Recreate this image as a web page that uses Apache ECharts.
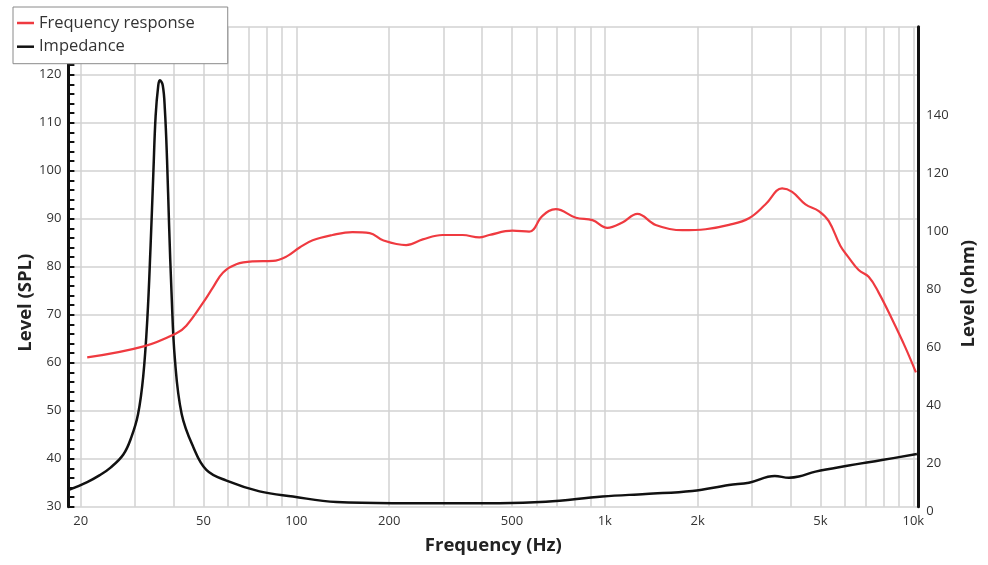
<!DOCTYPE html>
<html>
<head>
<meta charset="utf-8">
<script src="https://cdn.jsdelivr.net/npm/echarts@6/dist/echarts.min.js"></script>
<style>
html,body{margin:0;padding:0;background:#fff;}
#chart{width:988px;height:565px;}
</style>
</head>
<body>
<div id="chart"></div>
<script>
// ---- data ----
const frFreq  = [21, 32, 41, 44, 50, 53.7, 57.9, 63.9, 72.4, 84, 92.8, 102.5, 113, 131, 152, 173, 191, 227, 257, 298, 346, 392, 422, 502, 569, 628, 694, 806, 912, 1019, 1140, 1275, 1462, 1783, 2122, 2526, 2932, 3320, 3756, 4048, 4472, 4940, 5322, 5806, 6176, 6653, 7168, 7722, 8528, 9422, 10196];
const frLevel = [61.1, 63.4, 66.2, 67.7, 72.6, 75.7, 78.8, 80.5, 81.1, 81.2, 82.1, 84.0, 85.5, 86.6, 87.2, 87.0, 85.5, 84.5, 85.7, 86.6, 86.6, 86.1, 86.6, 87.5, 87.3, 90.6, 92.0, 90.2, 89.7, 88.1, 89.2, 91.0, 88.7, 87.6, 87.8, 88.7, 90.1, 93.0, 96.3, 95.6, 93.0, 91.6, 89.5, 84.3, 81.9, 79.3, 77.9, 74.6, 69.1, 63.2, 58.0];

const impFreq = [18.3, 21, 23, 25, 27.5, 29.2, 30.7, 31.9, 32.9, 33.7, 34.4, 35.0, 35.7, 36.1, 36.9, 37.5, 38.1, 38.7, 39.4, 40.4, 42.5, 46.3, 51.1, 59.4, 76, 97.5, 135, 205, 455, 644, 982, 1357, 1921, 2526, 2932, 3557, 3950, 4254, 4818, 6176, 7914, 10272];
const impOhm  = [10.8, 13.5, 15.8, 18.5, 23, 29, 37, 50, 70, 95, 120, 140, 150.5, 152.2, 150.5, 142, 125, 102, 79, 56, 37, 25.7, 17.7, 14.0, 10.3, 8.5, 6.6, 6.2, 6.2, 6.7, 8.5, 9.4, 10.4, 12.5, 13.3, 15.6, 15.0, 15.4, 17.1, 19.2, 21.1, 23.2];

const xGridFreqs  = [20, 30, 40, 50, 60, 70, 80, 90, 100, 200, 300, 400, 500, 600, 700, 800, 900, 1000, 2000, 3000, 4000, 5000, 6000, 7000, 8000, 9000, 10000];
const xLabelFreqs = [20, 50, 100, 200, 500, 1000, 2000, 5000, 10000];
const rightLabels = [20, 40, 60, 80, 100, 120, 140];

const X_MIN_HZ = 18.25, X_MAX_HZ = 10380;
const LEFT_MIN = 30, LEFT_MAX = 130;
const RIGHT_MIN = 5, RIGHT_MAX = 170.7;

// ---- chart ----
const lg = Math.log10;
const FONT = '"Open Sans", "DejaVu Sans", sans-serif';
const chart = echarts.init(document.getElementById('chart'), null, {renderer: 'canvas'});

const nameStyle = {fontFamily: FONT, fontSize: 18.5, fontWeight: 'bold', color: '#222'};

const option = {
  animation: false,
  backgroundColor: '#ffffff',
  textStyle: {fontFamily: FONT},
  legend: {
    orient: 'vertical',
    left: 13,
    top: 7,
    padding: [7, 33, 8, 4],
    itemGap: 5.7,
    itemWidth: 17,
    itemHeight: 2.5,
    icon: 'rect',
    backgroundColor: '#ffffff',
    borderColor: '#8a8a8a',
    borderWidth: 1,
    textStyle: {fontFamily: FONT, fontSize: 16.5, color: '#333', lineHeight: 18},
    data: ['Frequency response', 'Impedance']
  },
  grid: {left: 68.4, right: 69.7, top: 26.7, bottom: 58.3, outerBoundsMode: 'none'},
  xAxis: {
    type: 'value',
    min: lg(X_MIN_HZ),
    max: lg(X_MAX_HZ),
    name: 'Frequency (Hz)',
    nameLocation: 'middle',
    nameGap: 30,
    nameMoveOverlap: false,
    nameTextStyle: nameStyle,
    axisLine: {show: false},
    axisTick: {show: false, customValues: xGridFreqs.map(lg)},
    splitLine: {show: true, lineStyle: {color: '#d2d2d2', width: 1.5}},
    axisLabel: {
      customValues: xLabelFreqs.map(lg),
      margin: 8,
      fontFamily: FONT, fontSize: 13, color: '#333',
      formatter: v => { const f = Math.round(Math.pow(10, v)); return f >= 1000 ? (f / 1000) + 'k' : String(f); }
    }
  },
  yAxis: [
    {
      type: 'value',
      position: 'left',
      min: LEFT_MIN, max: LEFT_MAX, interval: 10,
      name: 'Level (SPL)',
      nameLocation: 'middle',
      nameGap: 33,
      nameMoveOverlap: false,
      nameTextStyle: Object.assign({}, nameStyle, {padding: [0, 72, 0, 0]}),
      axisLine: {show: true, lineStyle: {color: '#111', width: 3}},
      axisTick: {show: true, inside: true, length: 6, lineStyle: {color: '#111', width: 2}},
      minorTick: {show: true, splitNumber: 5, length: 6, lineStyle: {color: '#111', width: 2}},
      splitLine: {show: true, lineStyle: {color: '#d2d2d2', width: 1.5}},
      axisLabel: {
        margin: 7, fontFamily: FONT, fontSize: 13, color: '#333',
        formatter: v => (v >= LEFT_MAX ? '' : String(v))
      }
    },
    {
      type: 'value',
      position: 'right',
      min: RIGHT_MIN, max: RIGHT_MAX,
      name: 'Level (ohm)',
      nameLocation: 'middle',
      nameGap: 40,
      nameTextStyle: Object.assign({}, nameStyle, {padding: [0, 54, 0, 0]}),
      axisLine: {show: true, lineStyle: {color: '#111', width: 3}},
      axisTick: {show: false},
      splitLine: {show: false},
      axisLabel: {
        customValues: [RIGHT_MIN].concat(rightLabels),
        margin: 8, fontFamily: FONT, fontSize: 13, color: '#333',
        formatter: v => (v <= RIGHT_MIN ? '{z|0}' : String(v)),
        rich: {z: {fontFamily: FONT, fontSize: 13, color: '#333', padding: [10, 0, 0, 0]}}
      }
    }
  ],
  series: [
    {
      name: 'Frequency response',
      type: 'line',
      yAxisIndex: 0,
      data: frFreq.map((f, i) => [lg(f), frLevel[i]]),
      smooth: 0.4,
      symbol: 'none',
      color: '#ef3a40',
      lineStyle: {color: '#ef3a40', width: 2.2},
      z: 3
    },
    {
      name: 'Impedance',
      type: 'line',
      yAxisIndex: 1,
      data: impFreq.map((f, i) => [lg(f), impOhm[i]]),
      smooth: 0.4,
      symbol: 'none',
      color: '#111',
      lineStyle: {color: '#111', width: 2.5},
      z: 2
    }
  ]
};
chart.setOption(option);
</script>
</body>
</html>
